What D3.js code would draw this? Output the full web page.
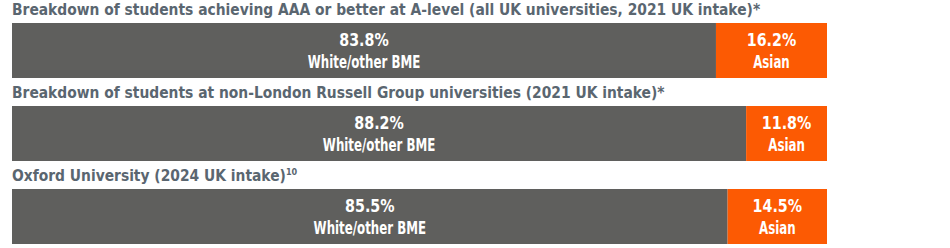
<!DOCTYPE html>
<html>
<head>
<meta charset="utf-8">
<script src="https://cdn.jsdelivr.net/npm/d3@7"></script>
<style>
html,body{margin:0;padding:0;background:#fff;}
svg{display:block;}
</style>
</head>
<body>
<svg id="chart" width="950" height="248"></svg>
<script>
const titles = [
  "Breakdown of students achieving AAA or better at A-level (all UK universities, 2021 UK intake)",
  "Breakdown of students at non-London Russell Group universities (2021 UK intake)",
  "Oxford University (2024 UK intake)"
];
const titleMarks = ["*", "*", "10"];
const whiteOtherBME = [83.8, 88.2, 85.5];
const asian = [16.2, 11.8, 14.5];
const seriesLabels = ["White/other BME", "Asian"];

const left = 12, right = 827;
const FONT = "'DejaVu Sans Condensed','DejaVu Sans',sans-serif";
const grey = "#5f5f5d", orange = "#fc5a03", titleColor = "#5a6670";

const svg = d3.select("#chart");

const y = d3.scaleBand().domain(d3.range(titles.length)).range([0, 249]);
// width per percentage point of the Asian segment
const w = d3.scaleLinear().domain([0, 100]).range([0, 685.4]);

const g = svg.selectAll("g.row").data(titles).join("g")
  .attr("class", "row")
  .attr("transform", (d, i) => `translate(0,${y(i)})`);

// titles
const t = g.append("text")
  .attr("x", left)
  .attr("y", 15)
  .attr("fill", titleColor)
  .attr("font-family", FONT)
  .attr("font-weight", "bold")
  .attr("font-size", 15.4)
  .text(d => d);
t.append("tspan")
  .attr("font-size", (d, i) => titleMarks[i] === "*" ? 15.4 : 9)
  .attr("dy", (d, i) => titleMarks[i] === "*" ? 0 : -6)
  .text((d, i) => titleMarks[i]);

const barTop = 23, barH = 55;
const splitX = i => right - w(asian[i]);

g.append("rect")
  .attr("x", left)
  .attr("y", barTop)
  .attr("width", (d, i) => splitX(i) - left)
  .attr("height", barH)
  .attr("fill", grey);

g.append("rect")
  .attr("x", (d, i) => splitX(i))
  .attr("y", barTop)
  .attr("width", (d, i) => w(asian[i]))
  .attr("height", barH)
  .attr("fill", orange);

const labelFont = 18;
function label(cxFn, dy, squeeze, textFn) {
  g.append("text")
    .attr("transform", (d, i) => `translate(${cxFn(i)},${barTop + dy}) scale(${squeeze},1)`)
    .attr("text-anchor", "middle")
    .attr("fill", "#fff")
    .attr("font-family", FONT)
    .attr("font-weight", "bold")
    .attr("font-size", labelFont)
    .text(textFn);
}
const greyC = i => (left + splitX(i)) / 2;
const orangeC = i => (splitX(i) + right) / 2;
label(greyC, 23, 0.88, (d, i) => whiteOtherBME[i].toFixed(1) + "%");
label(greyC, 45, 0.73, () => seriesLabels[0]);
label(orangeC, 23, 0.88, (d, i) => asian[i].toFixed(1) + "%");
label(orangeC, 45, 0.73, () => seriesLabels[1]);
</script>
</body>
</html>
